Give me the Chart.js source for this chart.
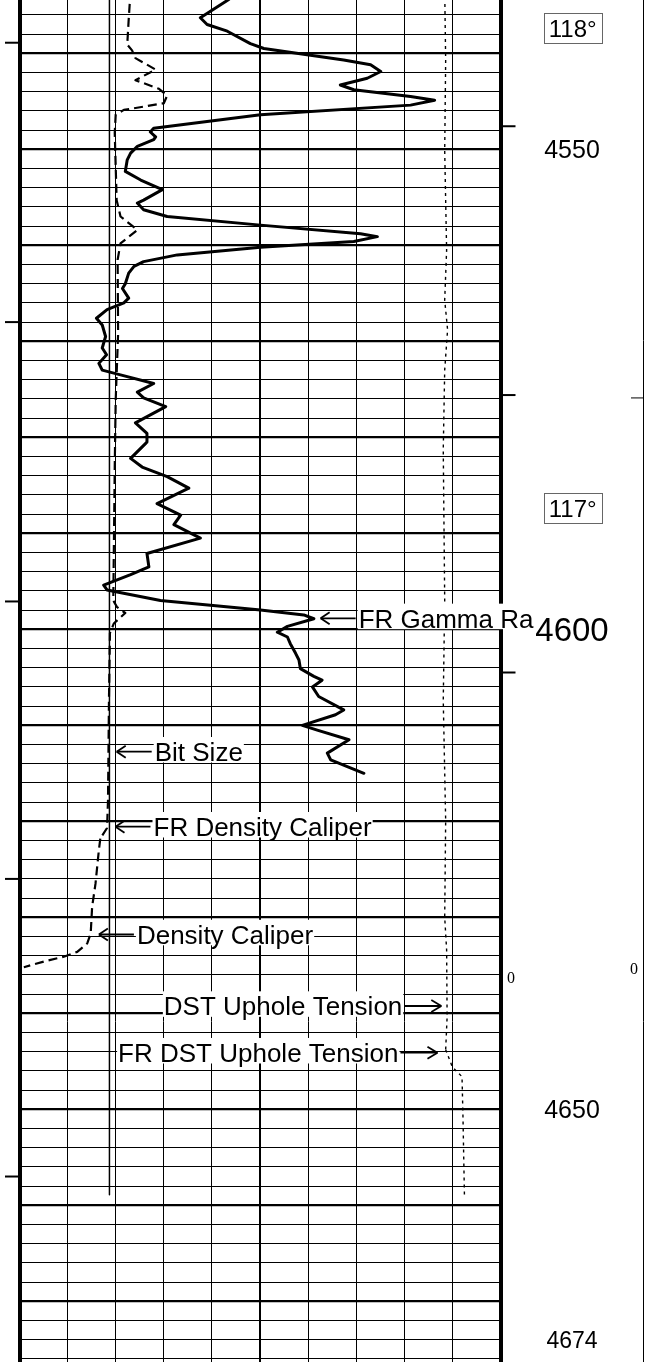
<!DOCTYPE html>
<html>
<head>
<meta charset="utf-8">
<title>Log track</title>
<script src="https://cdn.jsdelivr.net/npm/chart.js@4.4.1/dist/chart.umd.min.js"></script>
<style>
  html, body { margin: 0; padding: 0; background: #fff; }
  canvas { display: block; }
</style>
</head>
<body>
<canvas id="logChart" width="645" height="1362"></canvas>
<script>
// depth window of the sheet (ft), x values are % of track width
const depthTop = 4534.45;
const depthBottom = 4676.32;

const grDepth = [4533.4, 4534.4, 4536.3, 4537.0, 4537.7, 4539.0, 4539.5, 4540.2, 4540.7, 4541.2, 4541.9, 4542.6, 4543.3, 4543.8, 4544.5, 4544.9, 4545.4, 4546.4, 4547.8, 4548.2, 4548.7, 4549.0, 4549.7, 4550.4, 4551.1, 4552.3, 4553.2, 4554.2, 4555.3, 4555.6, 4556.3, 4557.0, 4557.9, 4558.8, 4559.1, 4559.6, 4560.2, 4561.0, 4561.7, 4562.2, 4562.9, 4564.0, 4564.5, 4565.5, 4566.0, 4566.7, 4567.6, 4568.3, 4569.5, 4570.7, 4571.4, 4572.3, 4573.0, 4573.5, 4574.4, 4575.3, 4575.9, 4576.8, 4578.5, 4579.6, 4580.5, 4582.2, 4583.1, 4584.1, 4585.3, 4586.9, 4588.1, 4589.1, 4590.5, 4592.1, 4593.5, 4594.3, 4595.4, 4595.9, 4597.0, 4598.0, 4598.5, 4598.9, 4599.7, 4600.3, 4600.8, 4601.5, 4602.5, 4603.2, 4604.1, 4604.9, 4605.3, 4606.0, 4607.0, 4608.4, 4608.9, 4610.0, 4610.5, 4611.5, 4612.9, 4613.6, 4615.0];
const grValue = [45.5, 43.5, 37.6, 39.0, 43.2, 48.0, 50.8, 60.5, 67.4, 73.0, 75.1, 72.3, 66.7, 69.5, 81.3, 86.3, 81.3, 50.1, 27.9, 27.2, 28.3, 27.9, 24.5, 23.1, 22.4, 22.0, 25.2, 29.7, 25.8, 24.5, 25.8, 30.7, 50.1, 70.9, 74.4, 69.5, 50.1, 32.8, 25.8, 23.8, 22.7, 22.0, 21.4, 22.7, 21.7, 18.2, 16.0, 17.2, 17.9, 17.2, 18.1, 16.5, 17.2, 21.0, 27.9, 24.5, 25.8, 30.4, 24.1, 26.5, 26.5, 23.1, 25.5, 30.7, 35.2, 28.6, 33.5, 32.1, 37.6, 26.5, 26.9, 23.1, 17.5, 18.2, 29.3, 50.1, 59.1, 61.2, 55.7, 53.6, 55.7, 56.3, 57.4, 58.1, 58.4, 61.2, 62.9, 60.9, 62.2, 67.4, 65.7, 58.8, 61.9, 68.5, 64.0, 64.7, 71.6];

const frCalDepth = [4533.4, 4536.5, 4539.1, 4539.7, 4540.5, 4541.7, 4542.8, 4543.7, 4544.4, 4545.2, 4545.9, 4546.4, 4548.3, 4555.3, 4557.0, 4558.4, 4559.8, 4561.5, 4569.2, 4576.1, 4583.1, 4597.0, 4597.7, 4598.3, 4599.4, 4600.4, 4607.4, 4617.8, 4620.7, 4621.8];
const frCalValue = [23.1, 22.7, 22.4, 23.4, 24.1, 28.3, 24.1, 29.0, 30.7, 30.0, 21.7, 20.0, 19.8, 20.2, 21.0, 24.5, 21.0, 20.4, 20.5, 20.0, 19.8, 19.5, 20.3, 22.0, 19.6, 18.8, 18.6, 18.4, 18.2, 16.8];

const calDepth = [4621.8, 4623.0, 4626.5, 4628.9, 4631.7, 4632.7, 4633.6, 4634.1, 4634.6, 4635.2];
const calValue = [16.8, 16.5, 15.8, 15.1, 14.8, 14.1, 12.0, 9.2, 5.1, 0.9];

const bitDepth = [4533.0, 4658.9];
const bitValue = [18.7, 18.7];

const frTenDepth = [4533.4, 4540.7, 4550.1, 4560.5, 4565.7, 4568.8, 4573.0, 4581.3, 4597.0, 4607.4, 4619.9, 4630.0, 4633.4, 4640.4, 4643.8];
const frTenValue = [88.4, 88.6, 88.4, 88.8, 88.4, 89.0, 88.4, 88.1, 88.4, 88.1, 88.6, 88.4, 88.8, 88.9, 88.6];
const tenDepth = [4643.8, 4645.6, 4646.6, 4650.8, 4658.9];
const tenValue = [88.6, 90.0, 92.0, 92.2, 92.5];

// depth numbers and temperature marks beside the track
const depthLabels = [4550, 4600, 4650, 4674];
const depthLabelSizes = [25, 33, 25, 23];
const tempLabels = ['118°', '117°'];
const tempDepths = [4537.4, 4587.4];

// tick marks on the track edges
const leftTickDepths = [4538.9, 4568.0, 4597.1, 4626.0, 4657.0];
const rightTickDepths = [4547.6, 4575.6, 4604.5];
const farRightTickDepth = 4575.9;
const zeroDepths = [4636.3, 4635.3];

// curve labels with arrows
const curveLabels = ['FR Gamma Ra', 'Bit Size', 'FR Density Caliper', 'Density Caliper', 'DST Uphole Tension', 'FR DST Uphole Tension'];
const labelDepths = [4598.86, 4612.75, 4620.56, 4631.79, 4639.24, 4644.1];
const labelTips = [62.4, 20.0, 19.75, 16.3, 87.9, 87.1];
const labelSides = ['left', 'left', 'left', 'left', 'right', 'right'];

const toPts = (depths, values) => depths.map((d, i) => ({ x: values[i], y: d }));

function seg(ctx, x1, y1, x2, y2) {
  ctx.beginPath();
  ctx.moveTo(x1, y1);
  ctx.lineTo(x2, y2);
  ctx.stroke();
}

const sansFont = '"Liberation Sans", Arial, sans-serif';

const logAnnotations = {
  id: 'logAnnotations',
  afterDraw(chart) {
    const { ctx, chartArea, scales } = chart;
    const x = scales.x, y = scales.y;
    const H = chart.height;
    ctx.save();
    ctx.strokeStyle = '#000';
    ctx.fillStyle = '#000';

    // edge ticks
    ctx.lineWidth = 2;
    leftTickDepths.forEach(d => {
      const py = y.getPixelForValue(d);
      seg(ctx, 5, py, chartArea.left, py);
    });
    rightTickDepths.forEach(d => {
      const py = y.getPixelForValue(d);
      seg(ctx, chartArea.right, py, chartArea.right + 15, py);
    });

    // far right track edge
    ctx.lineWidth = 1;
    seg(ctx, 643.5, 0, 643.5, H);
    const fy = y.getPixelForValue(farRightTickDepth);
    seg(ctx, 631, fy, 643.5, fy);

    // curve labels
    ctx.font = '26px ' + sansFont;
    ctx.textBaseline = 'alphabetic';
    curveLabels.forEach((txt, i) => {
      const py = y.getPixelForValue(labelDepths[i]);
      const tip = x.getPixelForValue(labelTips[i]);
      const w = ctx.measureText(txt).width;
      const base = py + 9.3;
      let tx;
      ctx.lineWidth = 1.8;
      if (labelSides[i] === 'left') {
        tx = tip + 39;
        seg(ctx, tip + 1, py, tip + 36, py);
        seg(ctx, tip + 1, py, tip + 10, py - 6);
        seg(ctx, tip + 1, py, tip + 10, py + 6);
      } else {
        tx = tip - 40 - w;
        seg(ctx, tip - 38, py, tip - 1, py);
        seg(ctx, tip - 1, py, tip - 11, py - 6);
        seg(ctx, tip - 1, py, tip - 11, py + 6);
      }
      ctx.fillStyle = '#fff';
      ctx.fillRect(tx - 1, base - 24, w + 2, 25.5);
      ctx.fillStyle = '#000';
      ctx.textAlign = 'left';
      ctx.fillText(txt, tx, base);
    });

    // depth numbers
    ctx.textAlign = 'center';
    depthLabels.forEach((d, i) => {
      const py = y.getPixelForValue(d);
      const size = depthLabelSizes[i];
      ctx.font = size + 'px ' + sansFont;
      ctx.fillText(String(d), 572, py + size * 0.358);
    });

    // temperature boxes
    ctx.font = '24px ' + sansFont;
    tempLabels.forEach((t, i) => {
      const py = y.getPixelForValue(tempDepths[i]);
      const w = ctx.measureText(t).width + 10;
      ctx.strokeStyle = '#666';
      ctx.lineWidth = 1;
      ctx.strokeRect(Math.round(572.7 - w / 2) + 0.5, Math.round(py - 15) + 0.5, Math.round(w), 30);
      ctx.fillText(t, 572.7, py + 8.6);
    });

    // scale zeros of the tension track
    ctx.font = '16px "Liberation Serif", "Times New Roman", serif';
    ctx.fillText('0', chartArea.right + 10.5, y.getPixelForValue(zeroDepths[0]) + 5.5);
    ctx.fillText('0', 634, y.getPixelForValue(zeroDepths[1]) + 5.5);
    ctx.restore();
  }
};

const lineBase = { showLine: true, pointRadius: 0, tension: 0, fill: false, borderColor: '#000', borderJoinStyle: 'round', borderCapStyle: 'round' };

new Chart(document.getElementById('logChart'), {
  type: 'line',
  data: {
    datasets: [
      { ...lineBase, label: 'FR Gamma Ray', data: toPts(grDepth, grValue), borderWidth: 3 },
      { ...lineBase, label: 'Bit Size', data: toPts(bitDepth, bitValue), borderWidth: 1.5, borderCapStyle: 'butt' },
      { ...lineBase, label: 'FR Density Caliper', data: toPts(frCalDepth, frCalValue), borderWidth: 2.2, borderDash: [9, 5], borderCapStyle: 'butt' },
      { ...lineBase, label: 'Density Caliper', data: toPts(calDepth, calValue), borderWidth: 2.2, borderDash: [9, 5], borderCapStyle: 'butt' },
      { ...lineBase, label: 'FR DST Uphole Tension', data: toPts(frTenDepth, frTenValue), borderWidth: 1.4, borderDash: [3, 4], borderCapStyle: 'butt' },
      { ...lineBase, label: 'DST Uphole Tension', data: toPts(tenDepth, tenValue), borderWidth: 1.4, borderDash: [3, 4], borderCapStyle: 'butt' }
    ]
  },
  options: {
    responsive: false,
    devicePixelRatio: 1,
    animation: false,
    layout: { padding: { left: 19.5, right: 144.5, top: 0, bottom: 0 } },
    plugins: { legend: { display: false }, tooltip: { enabled: false } },
    scales: {
      x: {
        type: 'linear',
        min: 0,
        max: 100,
        ticks: { display: false, stepSize: 10 },
        border: { display: false },
        grid: {
          drawTicks: false,
          color: '#000',
          lineWidth: (c) => (c.tick.value === 0 || c.tick.value === 100) ? 4 : (c.tick.value === 50 ? 2 : 1)
        }
      },
      y: {
        type: 'linear',
        reverse: true,
        min: depthTop,
        max: depthBottom,
        ticks: { display: false, stepSize: 2, includeBounds: false },
        border: { display: false },
        grid: {
          drawTicks: false,
          color: '#000',
          lineWidth: (c) => c.tick.value % 10 === 0 ? 2.2 : 1
        }
      }
    }
  },
  plugins: [logAnnotations]
});
</script>
</body>
</html>
